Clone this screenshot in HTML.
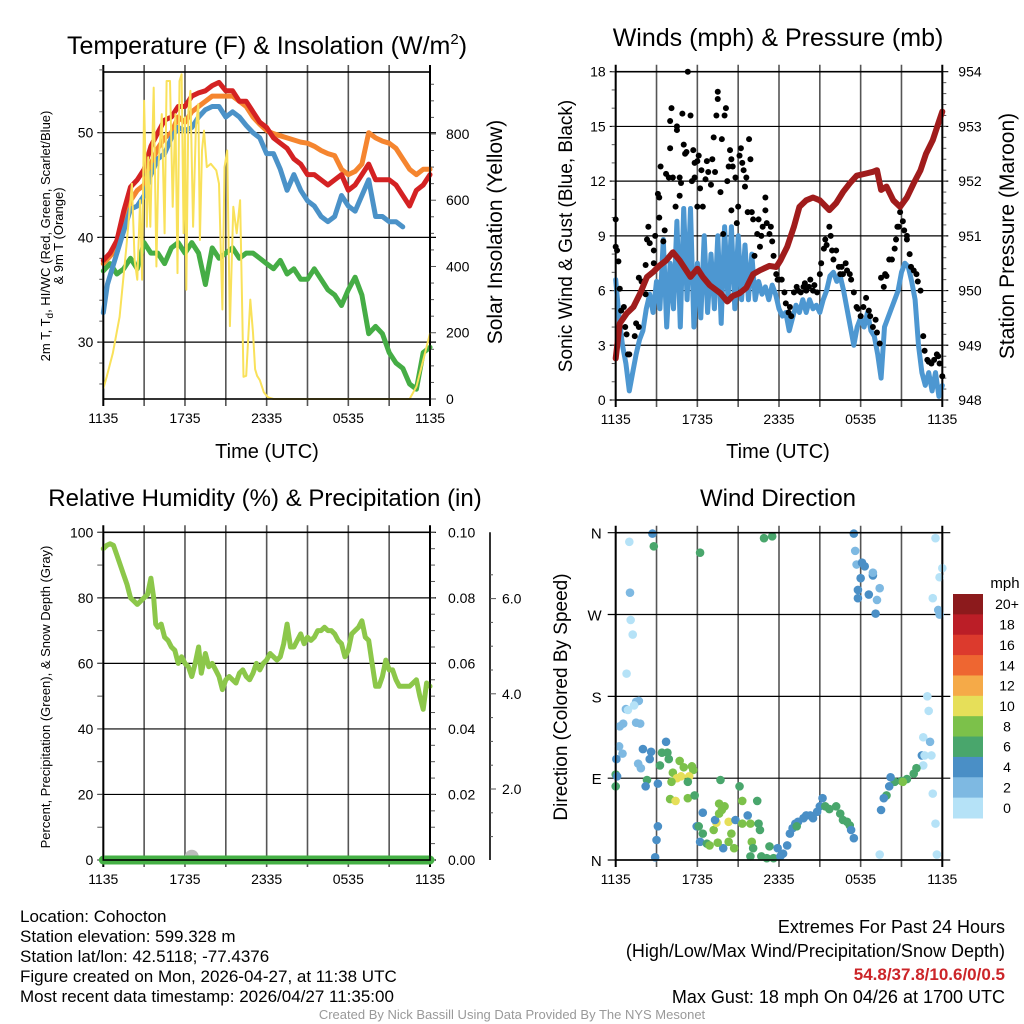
<!DOCTYPE html>
<html><head><meta charset="utf-8"><style>
html,body{margin:0;padding:0;background:#fff;}
svg{display:block;font-family:"Liberation Sans",Arial,sans-serif;}
.t{font-size:14px;fill:#000;}
</style></head><body>
<svg id="fig" width="1024" height="1024" viewBox="0 0 1024 1024" xmlns="http://www.w3.org/2000/svg">
<rect width="1024" height="1024" fill="#fff"/>
<g id="p1"></g>
<g id="p2"></g>
<g id="p3"></g>
<g id="p4"></g>

<text x="267" y="54" font-size="25" text-anchor="middle">Temperature (F) &amp; Insolation (W/m<tspan dy="-10" font-size="15">2</tspan><tspan dy="10">)</tspan></text>
<text x="778" y="46" font-size="25" text-anchor="middle">Winds (mph) &amp; Pressure (mb)</text>
<text x="265" y="506" font-size="24" text-anchor="middle">Relative Humidity (%) &amp; Precipitation (in)</text>
<text x="778" y="506" font-size="24" text-anchor="middle">Wind Direction</text>

<text x="267" y="458" font-size="20" text-anchor="middle">Time (UTC)</text>
<text x="778" y="458" font-size="20" text-anchor="middle">Time (UTC)</text>
<text transform="translate(50,236) rotate(-90)" font-size="13" text-anchor="middle">2m T, T<tspan dy="3" font-size="10">d</tspan><tspan dy="-3">, HI/WC (Red, Green, Scarlet/Blue)</tspan></text>
<text transform="translate(63,236) rotate(-90)" font-size="13" text-anchor="middle">&amp; 9m T (Orange)</text>
<text transform="translate(502,232) rotate(-90)" font-size="21" text-anchor="middle">Solar Insolation (Yellow)</text>
<text transform="translate(572,236) rotate(-90)" font-size="19" text-anchor="middle">Sonic Wind &amp; Gust (Blue, Black)</text>
<text transform="translate(1014,236) rotate(-90)" font-size="21" text-anchor="middle">Station Pressure (Maroon)</text>
<text transform="translate(50,697) rotate(-90)" font-size="13" text-anchor="middle">Percent, Precipitation (Green), &amp; Snow Depth (Gray)</text>
<text transform="translate(567,697) rotate(-90)" font-size="19" text-anchor="middle">Direction (Colored By Speed)</text>

<g font-size="17">
<text x="20" y="922">Location: Cohocton</text>
<text x="20" y="942">Station elevation: 599.328 m</text>
<text x="20" y="962">Station lat/lon: 42.5118; -77.4376</text>
<text x="20" y="982">Figure created on Mon, 2026-04-27, at 11:38 UTC</text>
<text x="20" y="1002">Most recent data timestamp: 2026/04/27 11:35:00</text>
</g>
<g font-size="18" text-anchor="end">
<text x="1005" y="933">Extremes For Past 24 Hours</text>
<text x="1005" y="957">(High/Low/Max Wind/Precipitation/Snow Depth)</text>
<text x="1005" y="980" fill="#cc2529" font-weight="bold" font-size="17">54.8/37.8/10.6/0/0.5</text>
<text x="1005" y="1003">Max Gust: 18 mph On 04/26 at 1700 UTC</text>
</g>
<text x="512" y="1019" font-size="13" fill="#999" text-anchor="middle">Created By Nick Bassill Using Data Provided By The NYS Mesonet</text>
</svg>
<script>
const NS="http://www.w3.org/2000/svg";
// ---------- data ----------
const timeLabels=["1135","1735","2335","0535","1135"];
const tempHours=[0,0.5,1,1.5,2,2.5,3,3.5,4,4.5,5,5.5,6,6.5,7,7.5,8,8.5,9,9.5,10,10.5,11,11.5,12,12.5,13,13.5,14,14.5,15,15.5,16,16.5,17,17.5,18,18.5,19,19.5,20,20.5,21,21.5,22,22.5,23,23.5,24];
const tempRed=[37.8,38.5,39.7,42.5,44.8,45.5,46.5,48.7,50,51.2,51.5,52.5,52.5,53.5,53.8,54,54.5,54.8,54,54,53,53,52,51,50.5,49.5,49,48.5,47.5,47,46,46,45.5,45,45.5,46,44.5,45,46,47,45.5,45.5,45.5,45,44,43,44.5,45,46];
const tempOrange=[37.5,38.2,39,41.5,43.5,44.5,45,47,48.5,49.5,50,51.5,51,52,52.5,53,53.5,53.5,53.5,53.5,53,52.5,51.5,50.8,50.2,49.9,49.7,49.5,49.3,49.1,49,48.7,48.3,48,47.8,46.5,46,46.3,47,50,49.5,49.2,49,48.5,47.5,46.5,46,46.5,46.5];
const blueHours=[0,0.3,1,2,2.5,3,3.5,4,4.5,5,5.5,6,6.5,7,7.5,8,8.5,9,9.5,10,10.5,11,11.5,12,12.5,13,13.5,14,14.5,15,15.5,16,16.5,17,17.5,18,18.5,19,19.5,20,20.5,21,21.5,22];
const tempBlue=[32.8,35.5,38.5,42.7,43,44,46,47.5,48,49.5,50.5,50.2,50.5,51.5,52.2,52.5,52.5,51.5,52,51.5,50.7,50,49.5,48,48,46.5,44.5,46,44.5,43.5,43,42,41.5,42,44,43,42.5,44,45.5,42,42,41.5,41.5,41];
const tempGreen=[36.8,37.5,36.5,37,38,37,39.5,38.5,38.5,37.5,39,39.5,38.5,39.5,38.5,35.5,39,38,38.5,39,38,38.5,38.5,38,37.5,37,37.8,36.5,37,36,36,37,36,35,34.5,33.5,35,36.2,34.5,30.8,31.5,30.8,29,28,27.5,26,25.5,29,29.5];
const solarHours=[0,0.25,0.7,1.2,1.7,2.1,2.3,2.5,2.7,2.85,3,3.2,3.3,3.45,3.7,3.9,4.05,4.3,4.5,4.65,4.9,5.1,5.3,5.45,5.6,5.75,5.9,6.0,6.1,6.25,6.4,6.6,6.8,6.98,7.1,7.25,7.4,7.6,7.9,8.3,8.5,8.75,8.9,9.1,9.3,9.55,9.8,10.05,10.3,10.5,10.8,11.0,11.15,11.3,11.5,11.8,12.1,12.5,22.5,23,23.5,24];
const solarVals=[32,67,138,248,460,650,420,360,600,360,900,520,730,520,940,400,700,860,500,960,960,580,860,380,960,980,500,850,330,870,930,520,820,890,480,750,810,700,710,690,650,270,700,750,220,580,500,600,67,70,300,200,90,70,57,20,5,0,0,37,117,198];
const windHours=[0,0.25,0.5,0.75,1,1.25,1.5,1.75,2,2.25,2.5,2.75,3,3.25,3.5,3.75,4,4.25,4.5,4.75,5,5.25,5.5,5.75,6,6.25,6.5,6.75,7,7.25,7.5,7.75,8,8.25,8.5,8.75,9,9.25,9.5,9.75,10,10.25,10.5,10.75,11,11.25,11.5,11.75,12,12.25,12.5,12.75,13,13.25,13.5,13.75,14,14.25,14.5,14.75,15,15.25,15.5,15.75,16,16.25,16.5,16.75,17,17.25,17.5,17.75,18,18.25,18.5,18.75,19,19.25,19.5,19.75,20,20.25,20.5,20.75,21,21.25,21.5,21.75,22,22.25,22.5,22.75,23,23.25,23.5,23.75,24];
const windSpeed=[6.6,4.5,3,2,0.5,1.5,2.5,3.3,3.8,5,5.8,4.8,6.5,5,8.8,4,7.5,5,9.8,4,10.5,5.5,10.5,4,7.5,4.5,9,4.8,8,5,9,4.2,9.5,5.5,9.5,5,9,5.5,8.5,5.5,8,5.5,6.5,5.8,6.2,5.5,6.3,5.8,5,4.6,4.8,3.8,4.5,5.2,4.8,5.5,4.8,5.5,5,5.2,4.8,5.5,6,6.8,7,6.5,6.8,6,5,4,3,4,4.5,4,4.8,3.8,3.5,2.5,1.2,4,4.5,5,5.5,6,7,7.5,7.3,6.5,5.5,3,1.5,0.8,1.5,0.5,1.5,0.2,0.8];
const gustHours=[0,0,0.1,0.2,0.3,0.4,0.6,0.7,0.8,0.9,1,1.4,1.5,1.7,1.7,1.9,2.2,2.2,2.3,2.4,2.5,2.8,2.8,2.9,3.1,3.2,3.2,3.3,3.5,3.6,3.7,3.9,4,4,4.1,4.2,4.4,4.5,4.5,4.7,4.7,4.8,4.9,5,5.1,5.2,5.3,5.5,5.6,5.7,5.8,5.8,6,6,6.1,6.2,6.3,6.4,6.6,6.7,6.8,7,7.1,7.2,7.3,7.4,7.5,7.5,7.7,7.8,7.9,8,8.1,8.2,8.3,8.4,8.5,8.5,8.6,8.8,8.9,9,9.1,9.2,9.3,9.4,9.5,9.6,9.7,9.8,9.9,10,10.1,10.2,10.4,10.5,10.6,10.7,10.8,11,11,11.1,11.3,11.4,11.5,11.6,11.8,11.9,12,12.2,12.4,12.5,12.7,12.8,12.9,13.1,13.3,13.4,13.6,13.8,13.9,14,14.2,14.3,14.5,14.6,14.8,15,15.1,15.3,15.4,15.5,15.7,15.8,15.9,16,16.2,16.4,16.5,16.6,16.7,16.9,17,17.2,17.3,17.5,17.7,17.8,18,18.2,18.4,18.6,18.7,18.9,19.1,19.2,19.4,19.5,19.7,19.8,19.9,20.1,20.3,20.5,20.6,20.7,20.8,20.9,21.1,21.2,21.4,21.4,21.6,21.7,21.9,22.1,22.2,22.4,22.6,22.7,22.9,23,23.2,23.4,23.6,23.7,23.8,24];
const gustSpeed=[9.9,8.4,8.2,7.6,6.1,4.9,5.1,4,3.6,2.5,2.5,3.5,4.2,4,6.7,6.5,5.8,7.4,8.8,9.5,8.6,8.2,7.5,9,11.3,11.1,10,12.8,8.7,9.3,12.4,12.2,15.3,13.8,16,12.2,10.6,14.8,15,12.2,11.2,11.9,15.7,14,13.5,13.6,18,15.6,12,13.7,12.2,13,10.6,13.1,13.4,11.6,12.6,10.6,12.1,13.1,12.5,11.8,13.2,14.4,12.5,15.6,16.5,16.9,11.4,14.3,9.1,15.6,16,12,12.8,13.7,10.4,13.2,12.8,12.2,9.7,10.6,13.4,13.8,13,12.6,11.7,12.2,10.3,14.3,13.2,10.3,9.9,7.9,9.1,9.9,8.4,9,9.5,11.1,10.4,9.7,9.1,9.5,8.7,7.9,6.9,6.6,6.6,6.6,5.9,5.3,4.8,5.1,4.6,5.9,6.2,6,5.9,6.2,6.4,6,6.2,6.6,6,6.3,5.9,6.9,7.5,8.3,8.8,8.5,9.5,9,8.2,7.7,8.2,7.3,6.9,7.3,6.9,7.5,7.1,6.9,6.6,5.9,5.1,5,4.6,5.1,5.6,4.9,4.6,4,4.4,3.7,3.1,6.7,6.2,6.9,6.8,7.7,7.7,8.3,8.8,9.5,9.5,10.3,9.8,9.3,9,8.8,8,7.3,7.1,6.9,6.5,6,3.5,2.7,2.2,2.1,2,2.2,2.5,2.4,2,1.3];
const presHours=[0,0.3,0.8,1.3,1.8,2.3,2.8,3.2,3.7,4.2,4.7,5.5,6,6.4,6.9,7.7,8.2,8.6,9.1,9.6,10.1,10.6,11.3,11.8,12.1,12.6,13.1,13.5,14,14.5,15,15.7,16.2,16.7,17.2,17.7,18.4,18.9,19.2,19.5,19.9,20.4,20.9,21.4,21.9,22.4,22.8,23.3,23.7,24];
const presVals=[948.76,949.4,949.58,949.7,949.95,950.25,950.35,950.45,950.55,950.7,950.55,950.25,950.4,950.25,950.1,949.95,949.8,949.9,949.95,950.05,950.3,950.37,950.45,950.43,950.55,950.8,951.17,951.53,951.65,951.7,951.65,951.47,951.6,951.8,951.96,952.1,952.14,952.17,952.2,951.84,951.9,951.65,951.53,951.7,951.96,952.2,952.5,952.75,953.05,953.27];
const windTicks=[0,3,6,9,12,15,18];
const presTicks=[948,949,950,951,952,953,954];
const rhHours=[0,0.25,0.5,0.75,1,1.25,1.5,1.75,2,2.25,2.5,2.75,3,3.25,3.5,3.7,3.85,4,4.25,4.5,4.75,5,5.25,5.5,5.75,6,6.25,6.5,6.75,7,7.2,7.5,7.75,8,8.25,8.5,8.75,9,9.25,9.5,9.75,10,10.25,10.5,10.75,11,11.25,11.5,11.75,12,12.25,12.5,12.75,13,13.25,13.5,13.75,14,14.25,14.5,14.75,15,15.25,15.5,15.75,16,16.25,16.5,16.75,17,17.25,17.5,17.75,18,18.25,18.5,18.75,19,19.25,19.5,19.75,20,20.25,20.5,20.75,21,21.25,21.5,21.75,22,22.5,23,23.25,23.5,23.75,24];
const rhVals=[95,96,96.5,96,93,90,87,84,80,79,78,79,80,81,86,80,72,71,72,68,67,65,64,60,62,60,59,56,60,65,57,63,59,60,58,56,52,55,56,55,54,57,58,56,55,57,60,58,60,61,63,62,61,62,66,72,65,65,67,69,66,68,67,68,70,70,71,70,70,69,67,66,62,64,69,70,71,73,68,67,60,53,53,56,61,58,58,55,53,53,53,55,50,46,54,53];
const rhTicks=[0,20,40,60,80,100];
const precipTicks=["0.00","0.02","0.04","0.06","0.08","0.10"];
const snowTicks=[2,4,6];
const precipHours=[0,24];
const precipVals=[0,0];
const snowHours=[6.5];
const snowVals=[0.05];
const dirHours=[1,2.7,2.8,1.05,1.1,1.25,0.8,1.5,1.7,0.75,0.9,1.35,0.3,0.55,1.5,1.8,0.25,0.5,0.05,0,0.1,0,2,2.6,2.5,1.65,1.85,3.7,3.4,3.8,3.25,3.9,3.1,2.3,2.2,3.1,3,2.9,4.2,4.7,5,5.6,5.7,4.5,4.8,5.4,4.1,5.3,4,4.4,5.3,5.8,7.7,9.1,6.4,5.95,6.1,6.4,6.2,6.7,6.9,7.2,7.4,7.3,7.6,7.8,7.6,8,8.3,8.5,8.7,8.3,7.9,7.5,8.8,9.3,9.3,9.7,9.9,10.4,10.5,10.6,10,10.1,9.9,10.7,11.1,11.3,11.6,11.9,12.1,12.3,12.6,12.8,13,13.2,13.4,13.8,14,14.3,14.5,14.8,15,15.2,15.4,15.7,16.2,16.5,16.7,17,17.2,17.3,17.5,13.3,17.5,17.6,17.7,18.1,18,17.8,18.6,18.9,18.9,19.4,19.2,19.1,17.8,18.3,23.5,24,23.8,23.3,23.7,23.8,22.9,23,22.6,23.1,22.5,22.7,23.2,22.6,22.1,21.9,21.4,21,20.5,21.1,20.2,20.1,19.9,19.7,19.5,23.3,23.5,23.6,19.4,10.9,11.5,6.2];
const dirVals=[350,359,345,294,264,248,205,174,175,166,165,170,147,150,151,150,125,117,111,94,92,81,122,119,111,106,101,130,118,118,104,111,84,88,81,37,22,3,96,109,102,103,99,90,92,92,86,86,67,65,68,71,88,81,52,37,37,29,20,18,16,33,41,44,51,55,62,59,42,29,13,20,13,19,44,65,40,49,40,65,40,33,20,13,4,4,2,15,2,13,4,7,16,29,35,40,42,46,49,49,46,53,59,68,59,56,59,51,44,42,38,33,24,37,359,340,325,327,310,297,292,313,316,299,286,271,288,323,354,321,311,288,275,270,180,164,135,130,115,115,115,104,101,95,89,87,86,86,91,81,71,68,55,73,40,6,6,354,356,338];
const dirSpeeds=[1,5,7,3,1,1,1,3,3,3,1,1,3,3,3,3,3,3,5,7,5,7,5,5,5,3,3,5,7,7,7,7,5,7,5,5,5,5,9,9,9,9,9,11,11,11,9,7,9,11,9,7,7,7,5,5,7,7,5,7,9,9,11,5,9,9,9,9,11,9,9,9,5,9,5,9,9,5,9,7,7,7,9,7,7,7,7,7,7,5,5,5,5,5,5,5,5,5,5,5,5,5,5,5,7,7,7,7,7,7,7,5,5,7,5,3,3,5,5,5,5,5,3,3,3,5,5,5,1,1,1,1,3,3,1,1,1,3,5,1,1,1,7,7,7,7,7,9,5,5,7,5,5,1,1,1,1,7,7,7];
const dirTickLabels=["N","E","S","W","N"];
const speedBins=["0","2","4","6","8","10","12","14","16","18","20+"];
const speedColors=["#b5e2f7","#7eb9e2","#4a8fc6","#49a66c","#7cc14a","#e6df59","#f5aa48","#ee6631","#dc3a2d","#bb1e27","#8c1a1c"];

// ---------- helpers ----------
function mk(parent,tag,attrs){const e=document.createElementNS(NS,tag);for(const k in attrs)e.setAttribute(k,attrs[k]);parent.appendChild(e);return e;}
function txt(parent,x,y,s,anchor,size){const e=mk(parent,"text",{x:x,y:y,"text-anchor":anchor||"middle","font-size":size||14});e.textContent=s;return e;}
function makeX(L,R){return h=>L+h*(R-L)/24;}

function frame(g,L,R,T,B,xs){
  for(let i=0;i<=8;i++){const x=xs(i*3);
    const gl=mk(g,"line",{x1:x,x2:x,y1:T-7,y2:B+7,stroke:i%8==0?"#000":"#555","stroke-width":i%8==0?2:1.6});
    
    
  }
  for(let i=0;i<timeLabels.length;i++){const t=txt(g,xs(i*6),B+24,timeLabels[i]);
    
    }
}
function border(g,L,R,T,B){
  const r=mk(g,"rect",{x:L,y:T,width:R-L,height:B-T,fill:"none",stroke:"#000","stroke-width":1.6});
  
  
}
function hgrid(g,L,R,y,extL,extR){const l=mk(g,"line",{x1:L-extL,x2:R+extR,y1:y,y2:y,stroke:"#000","stroke-width":1.2});
  
  }
function tick(g,x,y,dx){mk(g,"line",{x1:x,x2:x+dx,y1:y,y2:y,stroke:"#555","stroke-width":1});}
function line(g,xsArr,ysArr,xf,yf,color,w,name){
  const pts=xsArr.map((h,i)=>xf(h).toFixed(1)+","+yf(ysArr[i]).toFixed(1)).join(" ");
  const p=mk(g,"polyline",{points:pts,fill:"none",stroke:color,"stroke-width":w,"stroke-linejoin":"round","stroke-linecap":"round"});
  
  
  return p;
}

// ---------- panel 1 ----------
(function(){
  const g=document.getElementById("p1");const L=103.3,R=430,T=72,B=399;
  const x=makeX(L,R);const yT=F=>132.7+(50-F)*10.47;const yS=W=>B-W*0.3313;
  frame(g,L,R,T,B,x);
  [30,40,50].forEach(v=>{hgrid(g,L,R,yT(v),6,6);const t=txt(g,L-10,yT(v)+5,String(v),"end");
    
    });
  for(let v=26;v<=56;v+=2){tick(g,L,yT(v),-4);}
  for(let w=0;w<=950;w+=50){tick(g,R,yS(w),w%200==0?6:4);}
  [0,200,400,600,800].forEach(w=>{const t=txt(g,R+16,yS(w)+5,String(w),"start");
    
    });
  line(g,tempHours,tempGreen,x,yT,"#45ad45",5,"dewpoint-line");
  line(g,tempHours,tempOrange,x,yT,"#f5852f",5,"9m-temp-line");
  line(g,tempHours,tempRed,x,yT,"#d42223",5,"2m-temp-line");
  line(g,blueHours,tempBlue,x,yT,"#4b92c8",5,"heat-index-windchill-line");
  line(g,solarHours,solarVals,x,yS,"#f9e15a",2,"solar-insolation-line");
  border(g,L,R,T,B);
})();

// ---------- panel 2 ----------
(function(){
  const g=document.getElementById("p2");const L=615.7,R=942.3,T=71.7,B=400;
  const x=makeX(L,R);const yW=m=>B-m*(B-T)/18;const yP=p=>B-(p-948)*(B-T)/6;
  frame(g,L,R,T,B,x);
  windTicks.forEach(v=>{hgrid(g,L,R,yW(v),6,6);const t=txt(g,L-10,yW(v)+5,String(v),"end");
    
    });
  for(let v=0;v<=18;v+=1){tick(g,L,yW(v),-4);}
  for(let p=948;p<=954;p+=0.2){tick(g,R,yP(p),4);}
  presTicks.forEach(v=>{const t=txt(g,R+16,yP(v)+5,String(v),"start");
    
    });
  line(g,windHours,windSpeed,x,yW,"#4d97d1",5,"sonic-wind-line");
  gustHours.forEach((h,i)=>{const c=mk(g,"circle",{cx:x(h),cy:yW(gustSpeed[i]),r:3,fill:"#000"});
    
    });
  line(g,presHours,presVals,x,yP,"#a01c1c",6,"pressure-line");
  border(g,L,R,T,B);
})();

// ---------- panel 3 ----------
(function(){
  const g=document.getElementById("p3");const L=103.3,R=430,T=532.3,B=860;
  const x=makeX(L,R);const yR=r=>B-r*(B-T)/100;const yQ=q=>B-q*(B-T)/0.10;
  const yN=s=>789-(s-2)*47.6;
  frame(g,L,R,T,B,x);
  rhTicks.forEach(v=>{hgrid(g,L,R,yR(v),6,6);const t=txt(g,L-10,yR(v)+5,String(v),"end");
    
    });
  for(let v=0;v<=100;v+=10){tick(g,L,yR(v),-6);}
  for(let q=0;q<=0.1001;q+=0.005){tick(g,R,yQ(q),5);}
  precipTicks.forEach(v=>{const t=txt(g,R+18,yQ(parseFloat(v))+5,v,"start");
    
    });
  const ax=mk(g,"line",{x1:490,x2:490,y1:T,y2:B,stroke:"#000","stroke-width":1.6});
  
  
  for(let s=1;s<=6.5;s+=0.5){tick(g,490,yN(s),s%2==0?6:3);}
  snowTicks.forEach(v=>{const t=txt(g,502,yN(v)+5,v.toFixed(1),"start");
    
    });
  line(g,rhHours,rhVals,x,yR,"#8cc74a",5,"relative-humidity-line");
  snowHours.forEach((h,i)=>{const c=mk(g,"circle",{cx:x(h),cy:yQ(snowVals[i]*0.02),r:7,fill:"#bbb"});
    
    });
  line(g,precipHours,precipVals,x,yQ,"#45b045",9,"precipitation-line");
  border(g,L,R,T,B);
})();

// ---------- panel 4 ----------
(function(){
  const g=document.getElementById("p4");const L=615.7,R=942.3,T=532.7,B=860;
  const x=makeX(L,R);const yD=d=>B-d*(B-T)/360;
  frame(g,L,R,T,B,x);
  dirTickLabels.forEach((s,i)=>{hgrid(g,L,R,yD(i*90),8,8);const t=txt(g,L-14,yD(i*90)+6,s,"end",15);
    
    });
  dirHours.forEach((h,i)=>{let b=Math.min(10,Math.floor(dirSpeeds[i]/2));
    const c=mk(g,"circle",{cx:x(h),cy:yD(dirVals[i]),r:4.3,fill:speedColors[b]});
    
    });
  border(g,L,R,T,B);
  const cb=mk(g,"g",{});
  
  
  const top=594,bh=(818-594)/11;
  txt(cb,1005,588,"mph","middle",15);
  for(let i=0;i<11;i++){const k=10-i;
    const r=mk(cb,"rect",{x:953,y:top+i*bh,width:30,height:bh+0.5,fill:speedColors[k]});
    
    
    const t=txt(cb,1007,top+i*bh+bh/2+5,speedBins[k],"middle",14);
    
    }
})();
</script>
</body></html>
